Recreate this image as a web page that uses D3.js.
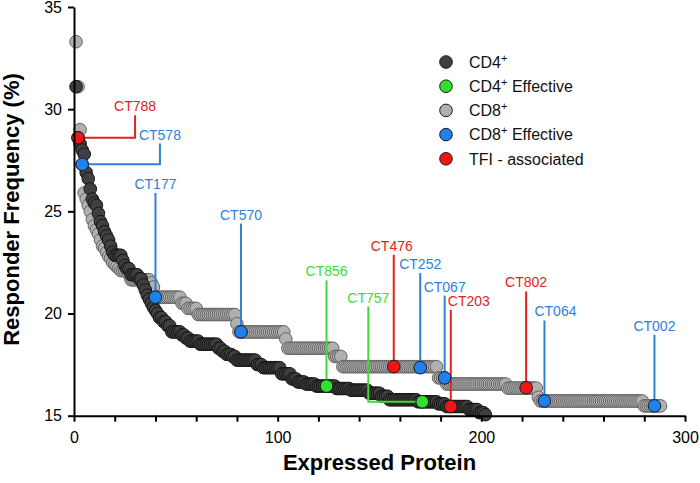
<!DOCTYPE html>
<html>
<head>
<meta charset="utf-8">
<script src="https://cdn.jsdelivr.net/npm/d3@7"></script>
<style>
body{margin:0;background:#fff;}
text{font-family:"Liberation Sans",Arial,sans-serif;}
</style>
</head>
<body>
<div id="chart"></div>
<script>
// responder frequency (%) by protein rank, stored as level + number of proteins at that level
var cd4Levels=[31.1,28.6,28.3,28.0,27.8,26.9,26.6,26.1,25.6,25.4,25.3,24.9,24.5,24.3,24.0,23.8,23.6,23.3,23.0,
    22.85,22.6,22.35,22.2,21.9,21.7,21.4,21.15,20.9,20.7,20.5,20.3,20.15,20.0,19.8,19.6,19.4,19.1,18.95,18.8,
    18.65,18.5,18.3,18.15,18.0,17.9,17.72,17.5,17.35,17.05,16.8,16.65,16.55,16.45,16.33,16.25,16.1,15.95,
    15.78,15.68,15.58,15.45,15.3,15.15,15.05];
var cd4Runs=[1,1,1,1,1,1,1,1,1,1,1,1,1,1,1,1,1,1,1,
    4,1,1,2,4,2,1,1,1,1,1,1,1,1,2,2,2,5,2,2,
    5,9,2,2,3,2,10,3,9,5,3,4,5,10,7,9,6,4,
    14,10,4,11,5,3,1];

var cd8Levels=[33.3,31.1,29.0,27.3,25.9,25.6,25.3,25.0,24.6,24.3,24.1,23.9,23.6,23.3,23.2,23.0,22.8,22.7,22.5,22.4,22.3,22.2,
    22.1,21.9,21.65,21.5,21.3,20.8,20.5,20.25,19.95,19.5,19.1,18.75,18.3,17.9,17.4,16.85,16.55,16.35,15.9,15.72,15.48];
var cd8Runs=[1,1,1,1,1,1,1,1,1,1,1,1,1,1,1,1,1,1,1,1,1,1,
    4,1,10,1,1,13,3,5,19,1,23,1,23,4,47,4,30,15,1,51,9];

// highlighted antigens
var hlNames=["CT788","CT578","CT177","CT570","CT856","CT757","CT476","CT252","CT067","CT203","CT802","CT064","CT002"];
var hlType=["tfi","cd8e","cd8e","cd8e","cd4e","cd4e","tfi","cd8e","cd8e","tfi","tfi","cd8e","cd8e"];
var hlX=[2,4,40,82,124,171,157,170,182,185,222,231,285];
var hlY=[28.6,27.3,20.8,19.1,16.45,15.68,17.4,17.35,16.85,15.45,16.37,15.72,15.48];

var xTicks=[0,20,40,60,80,100,120,140,160,180,200,220,240,260,280,300];
var yTicks=[15,20,25,30,35];

var legendNames=["CD4","CD4","CD8","CD8","TFI - associated"];
var legendSup=["+","+","+","+",""];
var legendRest=[""," Effective",""," Effective",""];

// callout layout: elbow x (data), top of the leader (data), label shift in px
var callout={
    CT788:{elbow:30,top:29.7,dx:0},
    CT578:{elbow:42.2,top:28.32,dx:0},
    CT177:{top:25.9,dx:0},
    CT570:{top:24.4,dx:0},
    CT856:{top:21.62,dx:0},
    CT757:{elbow:144.5,top:20.34,dx:0},
    CT476:{top:22.88,dx:-2},
    CT252:{top:21.98,dx:0},
    CT067:{top:20.88,dx:0},
    CT203:{top:20.18,dx:18},
    CT802:{top:21.08,dx:0},
    CT064:{top:19.66,dx:11},
    CT002:{top:18.96,dx:0}
};

var fills={cd4:"#404040",cd8:"#b0b0b0",cd4e:"#2fe02f",cd8e:"#1f80ee",tfi:"#f01616"};
var strokes={cd4:"#151515",cd8:"#656565",cd4e:"#1a1a1a",cd8e:"#1a1a1a",tfi:"#1a1a1a"};
var textCol={cd4e:"#3ddc3a",cd8e:"#2f80dc",tfi:"#e4221c"};

function expand(levels,runs){
    var out=[],r=1;
    levels.forEach(function(v,i){
        for(var k=0;k<runs[i];k++){out.push({x:r,y:v});r++;}
    });
    return out;
}
var cd4=expand(cd4Levels,cd4Runs);
var cd8=expand(cd8Levels,cd8Runs);

var W=700,H=483,R=6.3;
var x=d3.scaleLinear().domain([0,300]).range([74,685]);
var y=d3.scaleLinear().domain([15,35]).range([415.7,7]);

var svg=d3.select("#chart").append("svg").attr("width",W).attr("height",H);

// series, light first so dark sits on top
[["cd8",cd8],["cd4",cd4]].forEach(function(s){
    svg.append("g").selectAll("circle")
        .data(s[1])
        .enter()
        .append("circle")
        .attr("cx",function(d){return x(d.x);})
        .attr("cy",function(d){return y(d.y);})
        .attr("r",R)
        .style("fill",fills[s[0]])
        .style("stroke",strokes[s[0]])
        .style("stroke-width",1);
});

// leader lines
var hl=hlNames.map(function(n,i){return {name:n,type:hlType[i],x:hlX[i],y:hlY[i],c:callout[n]};});
var lines=svg.append("g");
hl.forEach(function(d){
    var lx=d.c.elbow!==undefined?d.c.elbow:d.x;
    var path=d3.path();
    path.moveTo(x(d.x),y(d.y));
    if(d.c.elbow!==undefined) path.lineTo(x(lx),y(d.y));
    path.lineTo(x(lx),y(d.c.top));
    lines.append("path").attr("d",path.toString())
        .style("fill","none").style("stroke",textCol[d.type]).style("stroke-width",2);
    svg.append("text")
        .attr("x",x(lx)+d.c.dx)
        .attr("y",y(d.c.top)-4)
        .attr("text-anchor","middle")
        .style("font-size","14px")
        .style("fill",textCol[d.type])
        .text(d.name);
});

svg.append("g").selectAll("circle")
    .data(hl)
    .enter()
    .append("circle")
    .attr("cx",function(d){return x(d.x);})
    .attr("cy",function(d){return y(d.y);})
    .attr("r",R)
    .style("fill",function(d){return fills[d.type];})
    .style("stroke",function(d){return strokes[d.type];})
    .style("stroke-width",1);

// axes
var xAxis=d3.axisBottom(x).tickValues(xTicks)
    .tickFormat(function(d){return d%100===0?d:"";})
    .tickSize(6).tickSizeOuter(0).tickPadding(10);
var yAxis=d3.axisLeft(y).tickValues(yTicks).tickSize(6).tickSizeOuter(0).tickPadding(6);

var gx=svg.append("g").attr("transform","translate(0,"+y(15)+")").call(xAxis);
var gy=svg.append("g").attr("transform","translate("+x(0)+",0)").call(yAxis);
[gx,gy].forEach(function(g){
    g.select(".domain").style("stroke","#000").style("stroke-width",2);
    g.selectAll(".tick line").style("stroke","#000").style("stroke-width",2);
    g.selectAll(".tick text").style("font-size","16px").style("fill","#000")
        .style("font-family","'Liberation Sans',Arial,sans-serif");
});

svg.append("text")
    .attr("x",(x(0)+x(300))/2)
    .attr("y",470)
    .attr("text-anchor","middle")
    .style("font-size","22px").style("font-weight","bold")
    .text("Expressed Protein");
svg.append("text")
    .attr("transform","translate(19,"+(72+347)/2+") rotate(-90)")
    .attr("text-anchor","middle")
    .style("font-size","22px").style("font-weight","bold")
    .text("Responder Frequency (%)");

// legend
var legTypes=["cd4","cd4e","cd8","cd8e","tfi"];
var leg=svg.append("g").attr("transform","translate(446,62)");
legTypes.forEach(function(t,i){
    var g=leg.append("g").attr("transform","translate(0,"+(i*24.2)+")");
    g.append("circle").attr("r",R).style("fill",fills[t]).style("stroke","#1a1a1a").style("stroke-width",1);
    var tx=g.append("text").attr("x",23).attr("y",5.8).style("font-size","16px").style("fill","#111");
    tx.append("tspan").text(legendNames[i]);
    if(legendSup[i]){
        tx.append("tspan").attr("dy",-6).style("font-size","11px").text(legendSup[i]);
        tx.append("tspan").attr("dy",6).text(legendRest[i]);
    }
});
</script>
</body>
</html>
